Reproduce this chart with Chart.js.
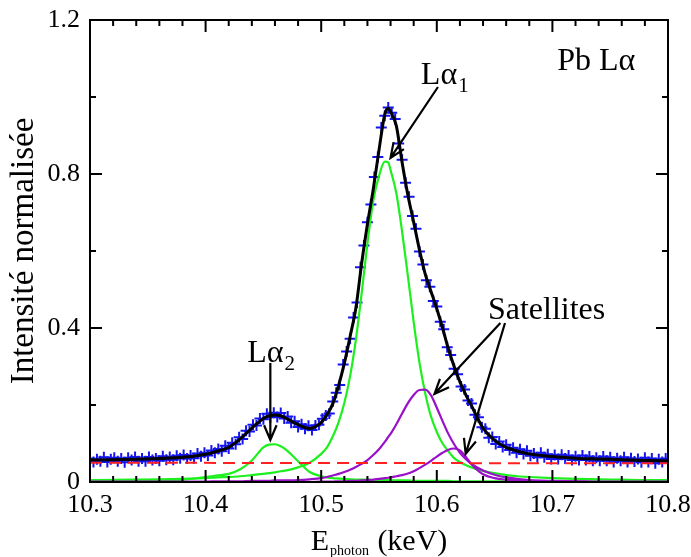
<!DOCTYPE html>
<html>
<head>
<meta charset="utf-8">
<script src="https://cdn.jsdelivr.net/npm/chart.js@4.4.1/dist/chart.umd.min.js"></script>
<style>
  html, body { margin: 0; padding: 0; background: #fff; }
  #wrap { width: 691px; height: 557px; }
</style>
</head>
<body>
<div id="wrap"><canvas id="chart" width="691" height="557"></canvas></div>
<script>
// fitted curves, sampled on a shared energy grid (keV)
const energy = [10.30, 10.32, 10.34, 10.36, 10.38, 10.40, 10.41, 10.42, 10.43, 10.44, 10.45,
  10.455, 10.46, 10.465, 10.47, 10.48, 10.49, 10.50, 10.505, 10.51, 10.515, 10.52, 10.525,
  10.53, 10.535, 10.54, 10.545, 10.55, 10.555, 10.558, 10.56, 10.565, 10.57, 10.575, 10.58,
  10.585, 10.59, 10.595, 10.60, 10.605, 10.61, 10.615, 10.62, 10.625, 10.63, 10.64, 10.65,
  10.66, 10.67, 10.68, 10.70, 10.72, 10.74, 10.76, 10.78, 10.80];

const fitTotal = [0.057, 0.058, 0.059, 0.061, 0.064, 0.072, 0.080, 0.090, 0.112, 0.140, 0.165,
  0.172, 0.174, 0.172, 0.165, 0.149, 0.139, 0.155, 0.175, 0.203, 0.250, 0.308, 0.378,
  0.452, 0.568, 0.670, 0.760, 0.862, 0.955, 0.971, 0.962, 0.925, 0.830, 0.745, 0.675,
  0.603, 0.540, 0.495, 0.450, 0.400, 0.346, 0.300, 0.260, 0.227, 0.198, 0.140, 0.108,
  0.090, 0.080, 0.073, 0.066, 0.062, 0.060, 0.058, 0.056, 0.055];

const la1Peak = [0.005, 0.0055, 0.0063, 0.0072, 0.0085, 0.010, 0.012, 0.013, 0.015, 0.018, 0.021,
  0.023, 0.025, 0.028, 0.030, 0.038, 0.050, 0.073, 0.090, 0.118, 0.155, 0.205, 0.275,
  0.37, 0.49, 0.62, 0.73, 0.795, 0.832, 0.830, 0.81, 0.75, 0.65, 0.535, 0.415,
  0.31, 0.23, 0.17, 0.13, 0.10, 0.08, 0.062, 0.052, 0.044, 0.038, 0.029, 0.023,
  0.018, 0.015, 0.013, 0.010, 0.008, 0.007, 0.006, 0.005, 0.005];

const la2Peak = [0.002, 0.002, 0.003, 0.004, 0.006, 0.013, 0.017, 0.021, 0.033, 0.056, 0.090,
  0.097, 0.098, 0.093, 0.083, 0.054, 0.026, 0.015, 0.012, 0.010, 0.009, 0.008, 0.007,
  0.006, 0.006, 0.006, 0.005, 0.005, 0.005, 0.005, 0.004, 0.004, 0.004, 0.004, 0.003,
  0.003, 0.003, 0.003, 0.003, 0.003, 0.003, 0.002, 0.002, 0.002, 0.002, 0.002, 0.002,
  0.002, 0.001, 0.001, 0.001, 0.001, 0.001, 0.001, 0.001, 0.001];

const sat1Peak = [0.001, 0.001, 0.001, 0.001, 0.001, 0.001, 0.002, 0.002, 0.002, 0.003, 0.003,
  0.003, 0.004, 0.004, 0.004, 0.005, 0.007, 0.010, 0.013, 0.017, 0.021, 0.026, 0.032,
  0.039, 0.047, 0.057, 0.070, 0.085, 0.104, 0.117, 0.125, 0.150, 0.178, 0.205, 0.226,
  0.239, 0.240, 0.225, 0.193, 0.158, 0.125, 0.098, 0.076, 0.060, 0.047, 0.030, 0.019,
  0.012, 0.008, 0.005, 0.003, 0.002, 0.001, 0.001, 0.001, 0.001];

const sat2Peak = [0, 0, 0, 0, 0, 0, 0, 0, 0, 0, 0,
  0, 0, 0, 0, 0, 0, 0.001, 0.001, 0.001, 0.002, 0.002, 0.003,
  0.003, 0.004, 0.005, 0.006, 0.008, 0.010, 0.011, 0.012, 0.015, 0.018, 0.022, 0.028,
  0.036, 0.045, 0.055, 0.066, 0.076, 0.084, 0.087, 0.082, 0.066, 0.046, 0.020, 0.010,
  0.006, 0.004, 0.003, 0.001, 0.001, 0, 0, 0, 0];

const bgEnergy = [10.30, 10.80];
const bgLevel = [0.050, 0.0485];

// measured spectrum
const measEnergy = [10.300, 10.303, 10.306, 10.309, 10.312, 10.315, 10.318, 10.321, 10.324, 10.327,
  10.330, 10.333, 10.336, 10.339, 10.342, 10.345, 10.348, 10.351, 10.354, 10.357,
  10.360, 10.363, 10.366, 10.369, 10.372, 10.375, 10.378, 10.381, 10.384, 10.387,
  10.390, 10.393, 10.396, 10.399, 10.402, 10.405, 10.408, 10.411, 10.414, 10.417,
  10.420, 10.423, 10.426, 10.429, 10.432, 10.435, 10.438, 10.441, 10.444, 10.447,
  10.450, 10.453, 10.456, 10.459, 10.462, 10.465, 10.468, 10.471, 10.474, 10.477,
  10.480, 10.483, 10.486, 10.489, 10.492, 10.495, 10.498, 10.501, 10.504, 10.507,
  10.510, 10.513, 10.516, 10.519, 10.522, 10.525, 10.528, 10.531, 10.534, 10.537,
  10.540, 10.543, 10.546, 10.549, 10.552, 10.555, 10.558, 10.561, 10.564, 10.567,
  10.570, 10.573, 10.576, 10.579, 10.582, 10.585, 10.588, 10.591, 10.594, 10.597,
  10.600, 10.603, 10.606, 10.609, 10.612, 10.615, 10.618, 10.621, 10.624, 10.627,
  10.630, 10.633, 10.636, 10.639, 10.642, 10.645, 10.648, 10.651, 10.654, 10.657,
  10.660, 10.663, 10.666, 10.669, 10.672, 10.675, 10.678, 10.681, 10.684, 10.687,
  10.690, 10.693, 10.696, 10.699, 10.702, 10.705, 10.708, 10.711, 10.714, 10.717,
  10.720, 10.723, 10.726, 10.729, 10.732, 10.735, 10.738, 10.741, 10.744, 10.747,
  10.750, 10.753, 10.756, 10.759, 10.762, 10.765, 10.768, 10.771, 10.774, 10.777,
  10.780, 10.783, 10.786, 10.789, 10.792, 10.795, 10.798];

const measCounts = [0.061, 0.052, 0.059, 0.054, 0.064, 0.052, 0.059, 0.063, 0.054, 0.061,
  0.051, 0.063, 0.057, 0.065, 0.054, 0.061, 0.054, 0.065, 0.057, 0.061,
  0.055, 0.067, 0.058, 0.065, 0.058, 0.068, 0.062, 0.070, 0.061, 0.069,
  0.062, 0.074, 0.067, 0.076, 0.069, 0.082, 0.076, 0.086, 0.080, 0.094,
  0.087, 0.102, 0.098, 0.116, 0.112, 0.133, 0.131, 0.149, 0.147, 0.165,
  0.163, 0.177, 0.168, 0.180, 0.169, 0.179, 0.165, 0.170, 0.154, 0.158,
  0.143, 0.150, 0.138, 0.146, 0.135, 0.147, 0.149, 0.164, 0.173, 0.178,
  0.209, 0.232, 0.252, 0.305, 0.339, 0.372, 0.427, 0.466, 0.558, 0.614,
  0.675, 0.721, 0.792, 0.844, 0.921, 0.951, 0.973, 0.959, 0.943, 0.879,
  0.837, 0.777, 0.741, 0.691, 0.658, 0.599, 0.565, 0.524, 0.507, 0.470,
  0.456, 0.416, 0.397, 0.350, 0.330, 0.294, 0.280, 0.248, 0.240, 0.212,
  0.204, 0.175, 0.168, 0.142, 0.138, 0.115, 0.117, 0.099, 0.105, 0.091,
  0.097, 0.083, 0.089, 0.076, 0.085, 0.073, 0.081, 0.068, 0.074, 0.064,
  0.076, 0.064, 0.072, 0.060, 0.070, 0.060, 0.071, 0.061, 0.069, 0.057,
  0.067, 0.057, 0.069, 0.057, 0.066, 0.055, 0.063, 0.055, 0.066, 0.055,
  0.064, 0.052, 0.062, 0.055, 0.064, 0.052, 0.062, 0.053, 0.060, 0.051,
  0.063, 0.052, 0.061, 0.049, 0.059, 0.052, 0.061];

const xTickValues = [10.3, 10.4, 10.5, 10.6, 10.7, 10.8];
const yTickValues = [0, 0.4, 0.8, 1.2];

const SERIF = '"Liberation Serif", "Times New Roman", serif';

const pts = (xs, ys) => xs.map((x, i) => ({ x: x, y: ys[i] }));

function curve(ys, color, order, width) {
    return {
        data: pts(energy, ys),
        showLine: true,
        borderColor: color,
        borderWidth: width || 2.2,
        pointRadius: 0,
        cubicInterpolationMode: 'monotone',
        order: order
    };
}

// tick labels must not push the plot area around
function noOverflow(s) {
    s.paddingTop = 0;
    s.paddingBottom = 0;
    s.paddingLeft = 0;
    s.paddingRight = 0;
}

// inward tick marks on all four sides, plus the frame
const frameTicks = {
    id: 'frameTicks',
    afterDatasetsDraw(chart) {
        const { ctx, chartArea: a, scales: { x, y } } = chart;
        ctx.save();
        ctx.strokeStyle = '#000';
        ctx.lineWidth = 2;
        for (let i = 0; i <= 25; i++) {
            const px = x.getPixelForValue(10.3 + i * 0.02);
            const len = i % 5 === 0 ? 12 : 6;
            ctx.beginPath();
            ctx.moveTo(px, a.bottom); ctx.lineTo(px, a.bottom - len);
            ctx.moveTo(px, a.top); ctx.lineTo(px, a.top + len);
            ctx.stroke();
        }
        for (let i = 0; i <= 6; i++) {
            const py = y.getPixelForValue(i * 0.2);
            const len = i % 2 === 0 ? 12 : 6;
            ctx.beginPath();
            ctx.moveTo(a.left, py); ctx.lineTo(a.left + len, py);
            ctx.moveTo(a.right, py); ctx.lineTo(a.right - len, py);
            ctx.stroke();
        }
        ctx.strokeRect(a.left, a.top, a.right - a.left, a.bottom - a.top);
        ctx.restore();
    }
};

function arrow(ctx, x1, y1, x2, y2) {
    const ang = Math.atan2(y2 - y1, x2 - x1);
    const h = 16, spread = 0.4;
    ctx.beginPath();
    ctx.moveTo(x1, y1); ctx.lineTo(x2, y2);
    ctx.moveTo(x2 - h * Math.cos(ang - spread), y2 - h * Math.sin(ang - spread));
    ctx.lineTo(x2, y2);
    ctx.lineTo(x2 - h * Math.cos(ang + spread), y2 - h * Math.sin(ang + spread));
    ctx.stroke();
}

function subLabel(ctx, main, sub, x, y) {
    ctx.font = '32px ' + SERIF;
    ctx.textAlign = 'left';
    ctx.textBaseline = 'alphabetic';
    ctx.fillText(main, x, y);
    const w = ctx.measureText(main).width;
    ctx.font = '21px ' + SERIF;
    ctx.fillText(sub, x + w + 1, y + 8);
}

const labels = {
    id: 'labels',
    afterDraw(chart) {
        const { ctx, chartArea: a, scales: { x, y } } = chart;
        ctx.save();
        ctx.fillStyle = '#000';
        ctx.strokeStyle = '#000';
        ctx.lineWidth = 2.2;

        ctx.font = '32px ' + SERIF;
        ctx.textAlign = 'center';
        ctx.textBaseline = 'alphabetic';
        ctx.fillText('Pb L\u03b1', x.getPixelForValue(10.738), y.getPixelForValue(1.07));
        ctx.fillText('Satellites', x.getPixelForValue(10.695), y.getPixelForValue(0.423));

        subLabel(ctx, 'L\u03b1', '1', x.getPixelForValue(10.5862), y.getPixelForValue(1.034));
        subLabel(ctx, 'L\u03b1', '2', x.getPixelForValue(10.436), y.getPixelForValue(0.312));

        arrow(ctx, x.getPixelForValue(10.601), y.getPixelForValue(1.026), x.getPixelForValue(10.560), y.getPixelForValue(0.842));
        arrow(ctx, x.getPixelForValue(10.456), y.getPixelForValue(0.309), x.getPixelForValue(10.456), y.getPixelForValue(0.109));
        arrow(ctx, x.getPixelForValue(10.655), y.getPixelForValue(0.413), x.getPixelForValue(10.598), y.getPixelForValue(0.229));
        arrow(ctx, x.getPixelForValue(10.659), y.getPixelForValue(0.413), x.getPixelForValue(10.625), y.getPixelForValue(0.073));

        // x axis title with subscript
        const cx = (a.left + a.right) / 2, by = 550;
        ctx.font = '30px ' + SERIF;
        const wE = ctx.measureText('E').width;
        const wK = ctx.measureText(' (keV)').width;
        ctx.font = '14px ' + SERIF;
        const wP = ctx.measureText('photon').width + 2;
        const sx = cx - (wE + wP + wK) / 2;
        ctx.textAlign = 'left';
        ctx.font = '30px ' + SERIF;
        ctx.fillText('E', sx, by);
        ctx.font = '14px ' + SERIF;
        ctx.fillText('photon', sx + wE + 1, by + 5);
        ctx.font = '30px ' + SERIF;
        ctx.fillText(' (keV)', sx + wE + wP, by);
        ctx.restore();
    }
};

new Chart(document.getElementById('chart'), {
    type: 'scatter',
    data: {
        datasets: [
            {
                data: pts(bgEnergy, bgLevel),
                showLine: true,
                borderColor: '#ff2020',
                borderWidth: 2,
                borderDash: [12, 7],
                pointRadius: 0,
                order: 1
            },
            curve(fitTotal, '#000000', 2, 3),
            curve(sat1Peak, '#9a10c8', 3),
            curve(sat2Peak, '#9a10c8', 4),
            curve(la1Peak, '#1ef01e', 5),
            curve(la2Peak, '#1ef01e', 6),
            {
                data: pts(measEnergy, measCounts),
                showLine: false,
                pointStyle: 'cross',
                pointRadius: 5.5,
                pointBorderWidth: 2,
                borderColor: '#1414f0',
                backgroundColor: '#1414f0',
                order: 7
            }
        ]
    },
    options: {
        responsive: false,
        animation: false,
        devicePixelRatio: 1,
        layout: { padding: { top: 20, right: 23, bottom: 0, left: 0 } },
        plugins: { legend: { display: false }, tooltip: { enabled: false } },
        scales: {
            x: {
                type: 'linear',
                min: 10.3,
                max: 10.8,
                afterBuildTicks: s => { s.ticks = xTickValues.map(v => ({ value: v })); },
                afterFit: s => { s.height = 75; noOverflow(s); },
                ticks: {
                    color: '#000',
                    padding: 8,
                    maxRotation: 0,
                    font: { family: SERIF, size: 26 },
                    callback: v => v.toFixed(1)
                },
                grid: { display: false, drawTicks: false },
                border: { display: false }
            },
            y: {
                type: 'linear',
                min: 0,
                max: 1.2,
                afterBuildTicks: s => { s.ticks = yTickValues.map(v => ({ value: v })); },
                afterFit: s => { s.width = 90; noOverflow(s); },
                ticks: {
                    color: '#000',
                    padding: 10,
                    font: { family: SERIF, size: 26 },
                    callback: v => v === 0 ? '0' : v.toFixed(1)
                },
                grid: { display: false, drawTicks: false },
                border: { display: false },
                title: {
                    display: true,
                    text: 'Intensité normalisée',
                    color: '#000',
                    font: { family: SERIF, size: 33 },
                    padding: { top: 5, bottom: 0 }
                }
            }
        }
    },
    plugins: [frameTicks, labels]
});
</script>
</body>
</html>
